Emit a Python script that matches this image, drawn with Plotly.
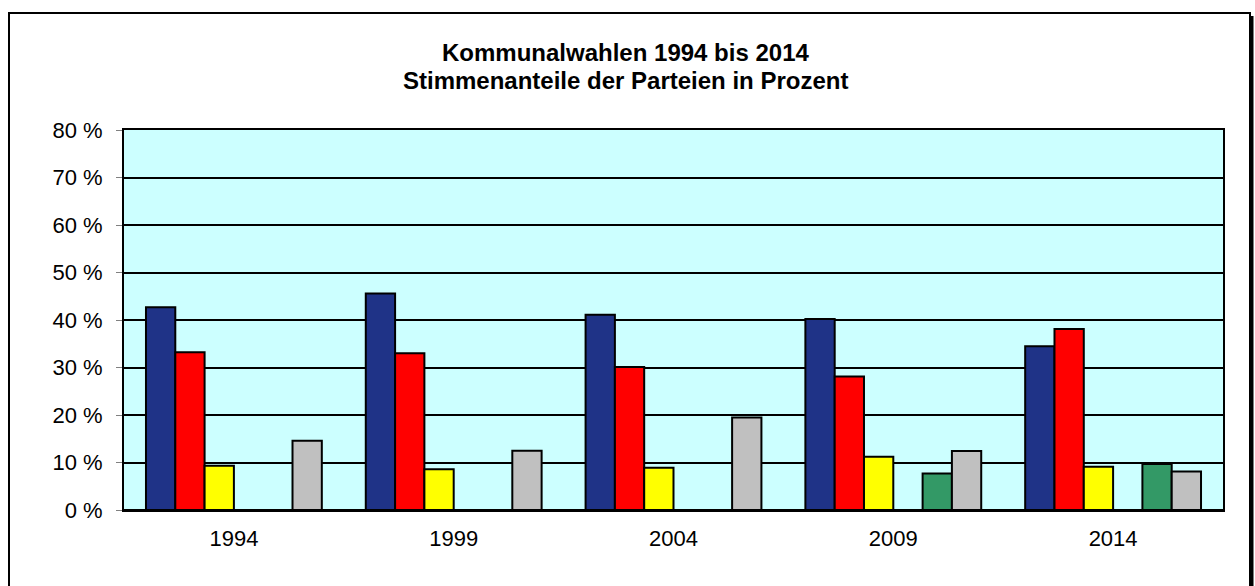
import plotly.graph_objects as go

years = ["1994", "1999", "2004", "2009", "2014"]
series_names = ["CDU", "SPD", "FDP", "Weitere", "GRÜNE", "Sonstige"]
cdu = [42.7, 45.6, 41.1, 40.2, 34.5]
spd = [33.2, 33.0, 30.1, 28.1, 38.1]
fdp = [9.3, 8.6, 8.9, 11.2, 9.1]
weitere = [None, None, None, None, None]
gruene = [None, None, None, 7.7, 9.7]
sonstige = [14.6, 12.5, 19.5, 12.4, 8.1]
series_values = [cdu, spd, fdp, weitere, gruene, sonstige]
colors = ["#1F3387", "#FF0000", "#FFFF00", "#808080", "#339966", "#C0C0C0"]
y_ticks = [0, 10, 20, 30, 40, 50, 60, 70, 80]
y_tick_labels = [f"{v} %" for v in y_ticks]
title_lines = ["Kommunalwahlen 1994 bis 2014", "Stimmenanteile der Parteien in Prozent"]

fig = go.Figure()
for name, vals, col in zip(series_names, series_values, colors):
    fig.add_trace(go.Bar(
        x=years, y=vals, name=name,
        marker=dict(color=col, line=dict(color="black", width=2)),
    ))

# plot area pixel geometry
W, H = 1255, 586
L, R, T, B = 124, 32, 130, 76
pw = W - L - R
ph = H - T - B

def px_x(p):
    return (p - L) / pw

def px_y(p):
    return (H - B - p) / ph

title_y_px = [53, 81]
annotations = [
    dict(text=f"<b>{t}</b>", xref="paper", yref="paper",
         x=px_x(625), y=px_y(yp), xanchor="center", yanchor="middle",
         showarrow=False, font=dict(size=24, color="black"))
    for t, yp in zip(title_lines, title_y_px)
]

fig.update_layout(
    width=W, height=H,
    margin=dict(l=L, r=R, t=T, b=B),
    paper_bgcolor="white",
    plot_bgcolor="#CCFFFF",
    barmode="group",
    bargap=0.2,
    bargroupgap=0,
    showlegend=False,
    font=dict(family="Arial, Liberation Sans, sans-serif", color="black"),
    annotations=annotations,
    xaxis=dict(
        showline=True, linecolor="black", linewidth=2, mirror=True,
        showgrid=False, ticks="", tickfont=dict(size=22),
        ticklabelstandoff=8,
    ),
    yaxis=dict(
        range=[0, 80], tickvals=y_ticks, ticktext=y_tick_labels,
        showline=True, linecolor="black", linewidth=2, mirror=True,
        showgrid=True, gridcolor="black", gridwidth=2,
        zeroline=True, zerolinecolor="black", zerolinewidth=3,
        ticks="outside", ticklen=6, tickcolor="#808080", tickwidth=1,
        tickfont=dict(size=22), ticklabelstandoff=9,
    ),
    shapes=[
        dict(type="rect", xref="paper", yref="paper",
             x0=px_x(9), x1=px_x(1250), y0=px_y(600), y1=px_y(13),
             line=dict(color="black", width=2), fillcolor="rgba(0,0,0,0)", layer="below"),
        dict(type="line", xref="paper", yref="paper",
             x0=px_x(1252), x1=px_x(1252), y0=px_y(600), y1=px_y(16),
             line=dict(color="black", width=3)),
    ],
)

fig.write_html(
    "out.html",
    config={"displayModeBar": False},
    post_script="document.body.style.margin='0';document.body.style.overflow='hidden';",
)
